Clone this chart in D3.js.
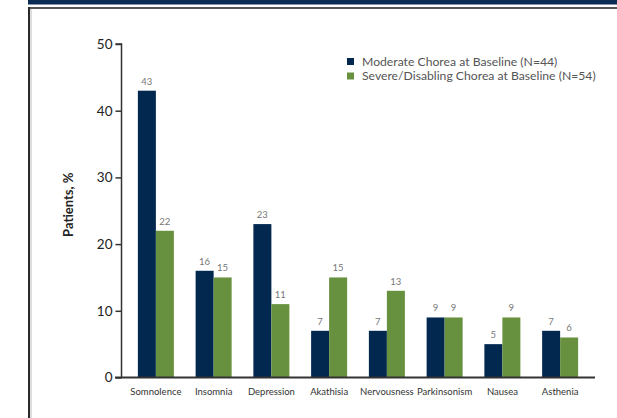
<!DOCTYPE html>
<html>
<head>
<meta charset="utf-8">
<script src="https://cdn.jsdelivr.net/npm/d3@7"></script>
<style>
  html, body { margin: 0; padding: 0; background: #fff; }
  svg { display: block; font-family: Lato, "Open Sans", sans-serif; }
</style>
</head>
<body>
<svg id="chart" width="617" height="418"></svg>
<script>
// Adverse events by baseline chorea severity
const categories = ["Somnolence", "Insomnia", "Depression", "Akathisia", "Nervousness", "Parkinsonism", "Nausea", "Asthenia"];
const seriesNames = ["Moderate Chorea at Baseline (N=44)", "Severe/Disabling Chorea at Baseline (N=54)"];
const moderate = [43, 16, 23, 7, 7, 9, 5, 7];
const severe = [22, 15, 11, 15, 13, 9, 9, 6];
const yTicks = [0, 10, 20, 30, 40, 50];
const yTitle = "Patients, %";

const colors = ["#02284f", "#68913f"];
const svg = d3.select("#chart");

// page header band and frame
svg.append("rect").attr("x", 28).attr("y", 0).attr("width", 589).attr("height", 4.5).attr("fill", "#0b2c55");
svg.append("line").attr("x1", 28).attr("x2", 617).attr("y1", 8).attr("y2", 8)
  .attr("stroke", "#555").attr("stroke-width", 2);
svg.append("line").attr("x1", 29).attr("x2", 29).attr("y1", 7).attr("y2", 418)
  .attr("stroke", "#2a2a2a").attr("stroke-width", 2);
svg.append("line").attr("x1", 31).attr("x2", 31).attr("y1", 9).attr("y2", 418)
  .attr("stroke", "#bbb").attr("stroke-width", 1);

const y = d3.scaleLinear().domain([0, 50]).range([377.5, 44]);
const x0 = d3.scaleBand().domain(categories).range([127, 589]).padding(0);
const pairW = 36;
const x1 = d3.scaleBand().domain([0, 1]).range([0, pairW]).padding(0);

const rows = categories.map((c, i) => ({ cat: c, vals: [moderate[i], severe[i]] }));

const g = svg.append("g");
const groups = g.selectAll("g.grp").data(rows).join("g")
  .attr("class", "grp")
  .attr("transform", d => `translate(${x0(d.cat) + (x0.bandwidth() - pairW) / 2},0)`);

groups.selectAll("rect").data(d => d.vals.map((v, k) => ({ v, k }))).join("rect")
  .attr("x", d => x1(d.k))
  .attr("width", x1.bandwidth())
  .attr("y", d => y(d.v))
  .attr("height", d => y(0) - y(d.v))
  .attr("fill", d => colors[d.k]);

groups.selectAll("text.val").data(d => d.vals.map((v, k) => ({ v, k }))).join("text")
  .attr("class", "val")
  .attr("x", d => x1(d.k) + x1.bandwidth() / 2)
  .attr("y", d => y(d.v) - 6)
  .attr("text-anchor", "middle")
  .attr("font-size", 9.5)
  .attr("fill", "#777")
  .text(d => d.v);

// y axis
const yAxis = d3.axisLeft(y).tickValues(yTicks).tickSize(6).tickPadding(3);
const ya = svg.append("g").attr("transform", "translate(121.5,0)").call(yAxis);
ya.select(".domain").attr("stroke", "#333").attr("stroke-width", 1.5).attr("d", `M-6,${y(50)}H0V${y(0)}`);
ya.selectAll(".tick line").attr("stroke", "#333").attr("stroke-width", 1.5);
ya.selectAll(".tick text").attr("font-size", 13.5).attr("fill", "#222").attr("font-family", "Lato, sans-serif");

// x axis
const xAxis = d3.axisBottom(x0).tickSize(0).tickPadding(11);
const xa = svg.append("g").attr("transform", `translate(0,${y(0)})`).call(xAxis);
xa.select(".domain").remove();
xa.selectAll(".tick text").attr("font-size", 9.5).attr("fill", "#333").attr("font-family", "Lato, sans-serif");
svg.append("line").attr("x1", 115).attr("x2", 595).attr("y1", y(0)).attr("y2", y(0))
  .attr("stroke", "#333").attr("stroke-width", 2);

// y title
svg.append("text")
  .attr("transform", `translate(73,${(y(0) + y(50)) / 2 - 6}) rotate(-90)`)
  .attr("text-anchor", "middle")
  .attr("font-size", 13)
  .attr("font-weight", "bold")
  .attr("fill", "#222")
  .text(yTitle);

// legend
const lg = svg.append("g").attr("transform", "translate(347,0)");
seriesNames.forEach((name, k) => {
  const cy = 61.5 + k * 14.5;
  lg.append("rect").attr("x", 0).attr("y", cy - 3.5).attr("width", 7).attr("height", 7).attr("fill", colors[k]);
  lg.append("text").attr("x", 15).attr("y", cy).attr("dy", "0.35em")
    .attr("font-size", 12.2).attr("fill", "#555").text(name);
});
</script>
</body>
</html>
